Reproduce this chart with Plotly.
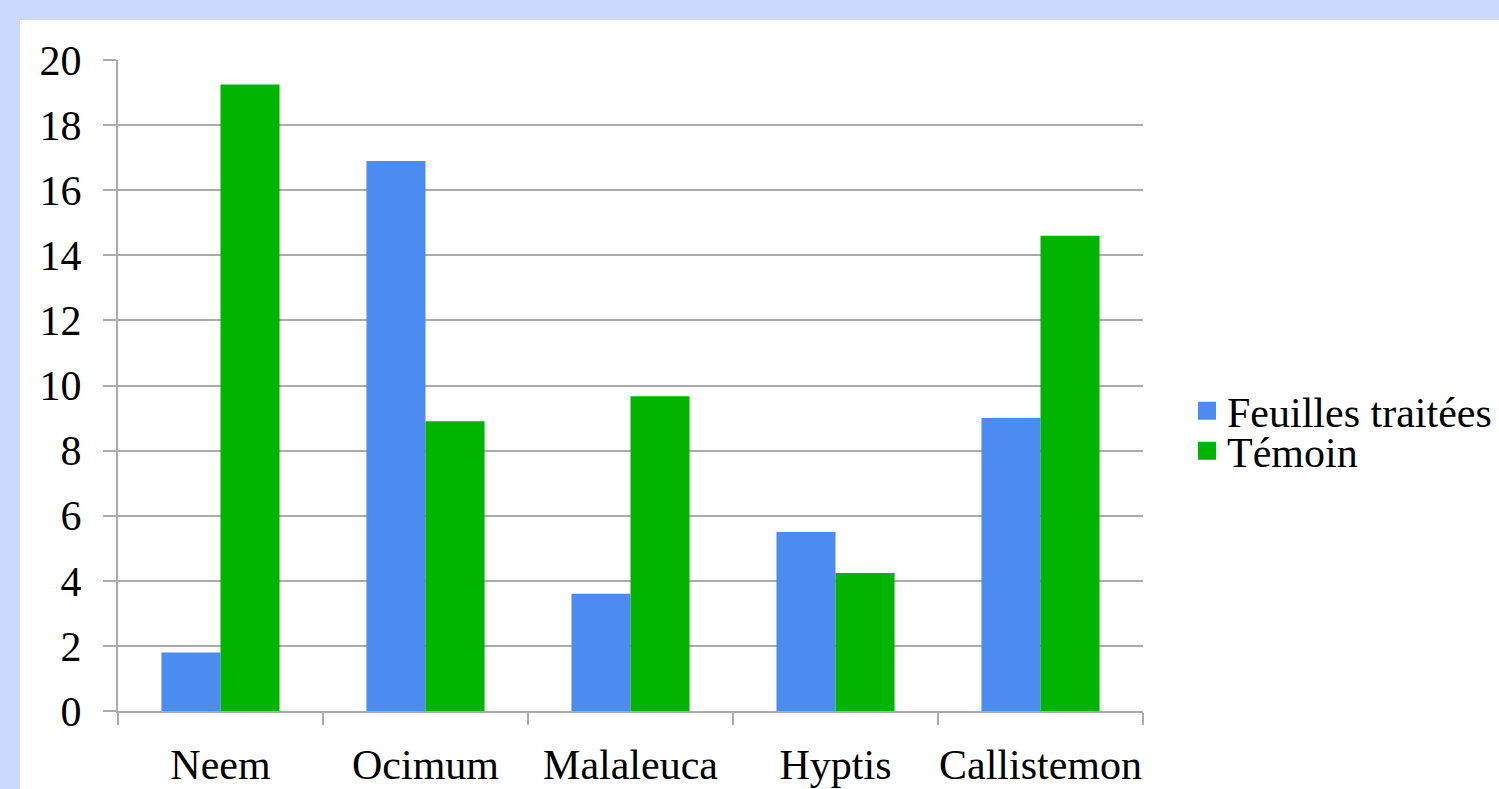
import plotly.graph_objects as go

# Plant extracts and the two measured series
categories = ["Neem", "Ocimum", "Malaleuca", "Hyptis", "Callistemon"]
feuilles_traitees = [1.8, 16.9, 3.6, 5.5, 9.0]
temoin = [19.25, 8.9, 9.67, 4.24, 14.6]
y_ticks = [0, 2, 4, 6, 8, 10, 12, 14, 16, 18, 20]

BLUE = "#4c8bef"
GREEN = "#00b400"
GRID = "#ababab"
FONT = dict(family="Liberation Serif, Times New Roman, serif", size=42, color="#000000")

fig = go.Figure()

fig.add_trace(go.Bar(x=categories, y=feuilles_traitees, name="Feuilles traitées",
                     marker=dict(color=BLUE, line=dict(width=0)), showlegend=False))
fig.add_trace(go.Bar(x=categories, y=temoin, name="Témoin",
                     marker=dict(color=GREEN, line=dict(width=0)), showlegend=False))

# Legend entries drawn as square markers so the swatches are larger than the bar default
fig.add_trace(go.Scatter(x=[None], y=[None], mode="markers", name="Feuilles traitées",
                         marker=dict(symbol="square", size=16, color=BLUE,
                                     line=dict(color=BLUE, width=2)),
                         legend="legend"))
fig.add_trace(go.Scatter(x=[None], y=[None], mode="markers", name="Témoin",
                         marker=dict(symbol="square", size=16, color=GREEN,
                                     line=dict(color=GREEN, width=2)),
                         legend="legend2"))

L, R, T, B = 118, 356, 60, 78
W, H = 1499, 789
pw, ph = W - L - R, H - T - B

# White panel over the lavender page background
fig.add_shape(type="rect", xref="paper", yref="paper", layer="below",
              x0=(20 - L) / pw, x1=(W - L) / pw, y0=-B / ph, y1=(H - 20 - B) / ph,
              fillcolor="#ffffff", line=dict(width=0))

legend_common = dict(font=FONT, bgcolor="rgba(0,0,0,0)", borderwidth=0,
                     xanchor="left", yanchor="middle", itemsizing="trace")

fig.update_layout(
    width=W, height=H,
    margin=dict(l=L, r=R, t=T, b=B, autoexpand=False),
    paper_bgcolor="#ccd9ff",
    plot_bgcolor="#ffffff",
    font=FONT,
    barmode="group",
    bargap=0.424,
    bargroupgap=0,
    showlegend=True,
    legend=dict(x=(1187 - L) / pw, y=(H - B - 411) / ph, **legend_common),
    legend2=dict(x=(1187 - L) / pw, y=(H - B - 451) / ph, **legend_common),
    xaxis=dict(
        type="category",
        automargin=False,
        showline=True, linecolor=GRID, linewidth=2,
        ticks="outside", ticklen=12, tickwidth=2, tickcolor=GRID,
        tickson="boundaries",
        tickangle=0,
        showgrid=False,
        tickfont=FONT,
        ticklabelstandoff=16,
    ),
    yaxis=dict(
        range=[0, 20],
        automargin=False,
        tickvals=y_ticks,
        showline=True, linecolor=GRID, linewidth=2,
        ticks="outside", ticklen=13, tickwidth=2, tickcolor=GRID,
        showgrid=True, gridcolor=GRID, gridwidth=2,
        zeroline=False,
        tickfont=FONT,
        ticklabelstandoff=13,
    ),
)

fig.write_html("out.html")
